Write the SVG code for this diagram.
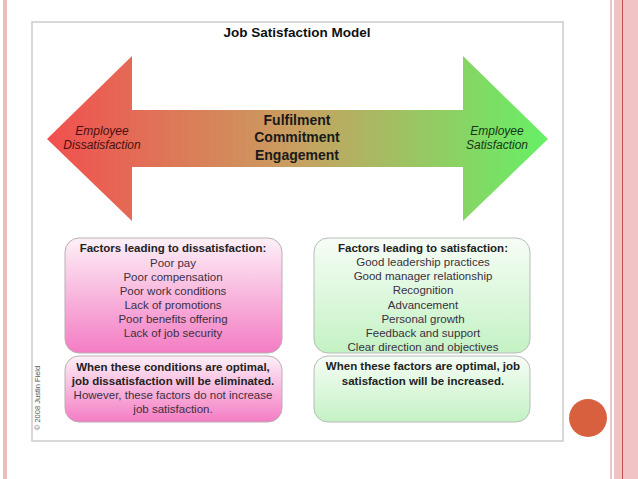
<svg xmlns="http://www.w3.org/2000/svg" width="638" height="479" viewBox="0 0 638 479">
<defs>
<linearGradient id="arrowGrad" x1="47" y1="0" x2="548" y2="0" gradientUnits="userSpaceOnUse">
<stop offset="0" stop-color="#f24f4f"/>
<stop offset="0.5" stop-color="#c8a060"/>
<stop offset="1" stop-color="#66f066"/>
</linearGradient>
<linearGradient id="pinkGrad" x1="0" y1="0" x2="0" y2="1">
<stop offset="0" stop-color="#fdf0f7"/>
<stop offset="1" stop-color="#f47cc4"/>
</linearGradient>
<linearGradient id="greenGrad" x1="0" y1="0" x2="0" y2="1">
<stop offset="0" stop-color="#f6fdf6"/>
<stop offset="1" stop-color="#c4f2c4"/>
</linearGradient>
</defs>
<style>
text { font-family: "Liberation Sans", Arial, sans-serif; text-anchor: middle; }
.title { font-size: 13.5px; font-weight: bold; fill: #111; }
.center { font-size: 14px; font-weight: bold; fill: #1a1a1a; }
.emp { font-size: 12px; font-style: italic; }
.hdr { font-size: 11.5px; font-weight: bold; fill: #222; }
.item { font-size: 11.5px; fill: #3c3040; }
.pbox { fill: url(#pinkGrad); stroke: #b8b0b4; stroke-width: 1; }
.gbox { fill: url(#greenGrad); stroke: #b8bcb8; stroke-width: 1; }
</style>
<rect x="0" y="0" width="638" height="479" fill="#ffffff"/>
<!-- slide decoration -->
<rect x="3" y="0" width="4" height="479" fill="#eebcbc"/>
<rect x="610" y="0" width="2" height="479" fill="#eec4c4"/>
<rect x="614" y="0" width="24" height="479" fill="#f0c4c4"/>
<rect x="622" y="0" width="1" height="479" fill="#c85050"/>
<circle cx="588" cy="418" r="19" fill="#d8603f"/>
<!-- frame -->
<rect x="32" y="22" width="531" height="419" fill="#ffffff" stroke="#cccccc" stroke-width="1.5"/>
<text class="title" x="297" y="37">Job Satisfaction Model</text>
<g id="arrow">
<polygon points="47,139 132,56 132,110 463,110 463,56 548,139 463,221 463,167 132,167 132,221" fill="url(#arrowGrad)"/>
<text class="emp" x="102" y="135" fill="#4a1010">Employee</text>
<text class="emp" x="102" y="149" fill="#4a1010">Dissatisfaction</text>
<text class="emp" x="497" y="135" fill="#143814">Employee</text>
<text class="emp" x="497" y="149" fill="#143814">Satisfaction</text>
<text class="center" x="297" y="125">Fulfilment</text>
<text class="center" x="297" y="142">Commitment</text>
<text class="center" x="297" y="160">Engagement</text>
</g>
<g id="dissat-factors">
<rect class="pbox" x="65" y="238" width="217" height="115" rx="14"/>
<text class="hdr" x="173" y="252">Factors leading to dissatisfaction:</text>
<text class="item" x="173" y="267">Poor pay</text>
<text class="item" x="173" y="281">Poor compensation</text>
<text class="item" x="173" y="295">Poor work conditions</text>
<text class="item" x="173" y="309">Lack of promotions</text>
<text class="item" x="173" y="323">Poor benefits offering</text>
<text class="item" x="173" y="337">Lack of job security</text>
</g>
<g id="dissat-note">
<rect class="pbox" x="65" y="356" width="217" height="66" rx="14"/>
<text class="hdr" x="173" y="371">When these conditions are optimal,</text>
<text class="hdr" x="173" y="385">job dissatisfaction will be eliminated.</text>
<text class="item" x="173" y="399">However, these factors do not increase</text>
<text class="item" x="173" y="413">job satisfaction.</text>
</g>
<g id="sat-factors">
<rect class="gbox" x="314" y="238" width="216" height="115" rx="14"/>
<text class="hdr" x="423" y="252">Factors leading to satisfaction:</text>
<text class="item" x="423" y="266">Good leadership practices</text>
<text class="item" x="423" y="280">Good manager relationship</text>
<text class="item" x="423" y="294">Recognition</text>
<text class="item" x="423" y="309">Advancement</text>
<text class="item" x="423" y="323">Personal growth</text>
<text class="item" x="423" y="337">Feedback and support</text>
<text class="item" x="423" y="351">Clear direction and objectives</text>
</g>
<g id="sat-note">
<rect class="gbox" x="314" y="356" width="216" height="66" rx="14"/>
<text class="hdr" x="423" y="370">When these factors are optimal, job</text>
<text class="hdr" x="423" y="385">satisfaction will be increased.</text>
</g>
<text x="40" y="398" transform="rotate(-90 40 398)" style="font-size:7.5px; fill:#555;">© 2008 Justin Field</text>
</svg>
